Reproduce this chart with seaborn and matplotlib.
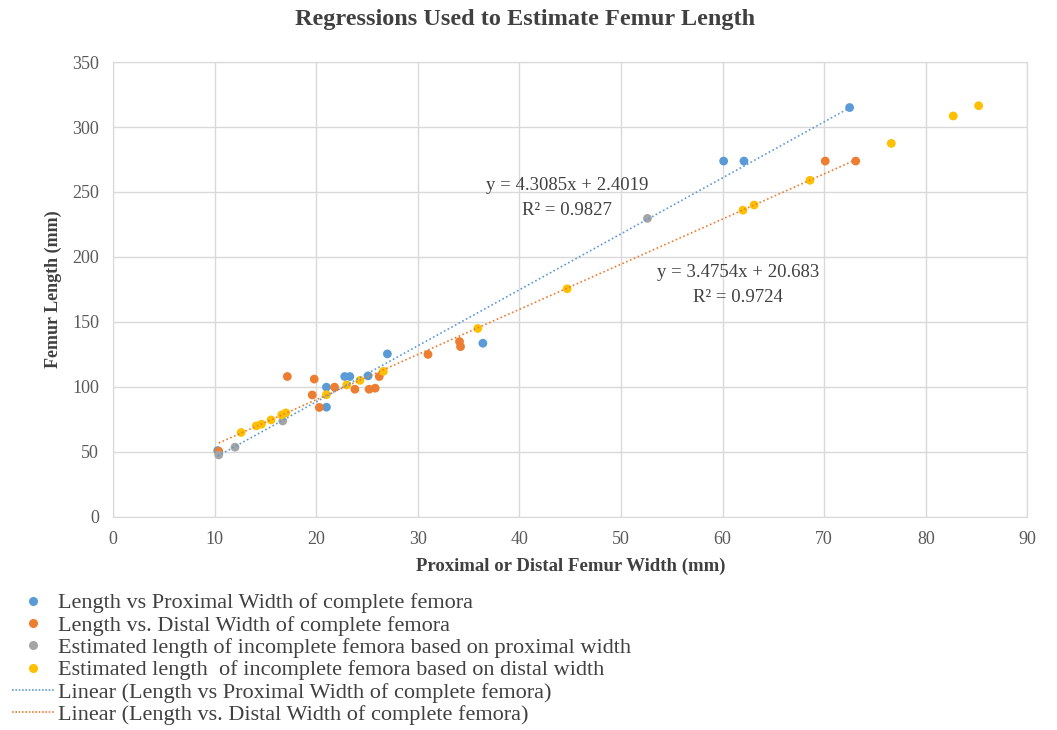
import numpy as np
import pandas as pd
import seaborn as sns
import matplotlib.pyplot as plt
from matplotlib.lines import Line2D

# --- data ---
prox_x = [10.3, 21.0, 21.0, 22.8, 23.3, 25.1, 27.0, 36.4, 60.1, 62.1, 72.5]
prox_y = [51.0, 99.8, 84.4, 108.0, 108.0, 108.5, 125.4, 133.6, 273.8, 273.8, 315.0]

dist_x = [10.4, 17.15, 19.8, 19.6, 20.3, 21.8, 23.8, 25.2, 25.8, 26.2, 31.0, 34.1, 34.2, 70.1, 73.1]
dist_y = [50.5, 108.0, 106.0, 93.8, 84.2, 99.8, 98.2, 98.2, 99.0, 108.0, 125.0, 134.9, 131.0, 273.8, 273.8]

est_prox_x = [10.4, 12.0, 16.7, 52.6]
est_prox_y = [47.7, 53.6, 73.8, 229.7]

est_dist_x = [12.6, 14.1, 14.6, 15.55, 16.6, 17.0, 21.0, 23.0, 24.3, 26.6, 35.9, 44.7,
              62.0, 63.1, 68.6, 76.6, 82.7, 85.2]
est_dist_y = [64.9, 70.0, 71.3, 74.6, 78.5, 80.0, 94.0, 101.5, 105.0, 112.0, 145.0, 175.5,
              236.0, 240.0, 259.0, 287.4, 308.5, 316.4]

series_names = ["Length vs Proximal Width of complete femora",
                "Length vs. Distal Width of complete femora",
                "Estimated length of incomplete femora based on proximal width",
                "Estimated length  of incomplete femora based on distal width"]
colors = ["#5B9BD5", "#ED7D31", "#A5A5A5", "#FFC000"]

# trendline coefficients (from the chart labels)
prox_slope, prox_int, prox_r2 = 4.3085, 2.4019, 0.9827
dist_slope, dist_int, dist_r2 = 3.4754, 20.683, 0.9724

frames = []
for name, xs, ys in zip(series_names,
                        [prox_x, dist_x, est_prox_x, est_dist_x],
                        [prox_y, dist_y, est_prox_y, est_dist_y]):
    frames.append(pd.DataFrame({"x": xs, "y": ys, "series": name}))
df = pd.concat(frames, ignore_index=True)

sns.set_style("white")
plt.rcParams['font.family'] = ['Liberation Serif', 'DejaVu Serif']

fig = plt.figure(figsize=(10.57, 7.3), dpi=100)
ax = fig.add_axes([0.107, 0.292, 0.865, 0.623])

sns.scatterplot(data=df, x="x", y="y", hue="series", hue_order=series_names,
                palette=colors, s=40, edgecolor="none", legend=False, ax=ax, zorder=3)

# linear trendlines over the range of the complete-femora data
def trend(xs, slope, intercept):
    xr = np.array([min(xs), max(xs)])
    return pd.DataFrame({"x": xr, "y": slope * xr + intercept})

sns.lineplot(data=trend(prox_x, prox_slope, prox_int), x="x", y="y", color=colors[0],
             linestyle=(0, (1, 1.5)), linewidth=1.2, ax=ax, zorder=4)
sns.lineplot(data=trend(dist_x, dist_slope, dist_int), x="x", y="y", color=colors[1],
             linestyle=(0, (1, 1.5)), linewidth=1.2, ax=ax, zorder=4)

ax.text(44.7, 255, f"y = {prox_slope}x + {prox_int}", ha="center", va="center",
        fontsize=13.5, color="#404040")
ax.text(44.7, 236, f"R² = {prox_r2}", ha="center", va="center", fontsize=13.5, color="#404040")
ax.text(61.5, 188, f"y = {dist_slope}x + {dist_int}", ha="center", va="center",
        fontsize=13.5, color="#404040")
ax.text(61.5, 169, f"R² = {dist_r2}", ha="center", va="center", fontsize=13.5, color="#404040")

ax.set_xlim(0, 90)
ax.set_ylim(0, 350)
ax.set_xticks(range(0, 91, 10))
ax.set_yticks(range(0, 351, 50))
ax.grid(True, color="#D9D9D9", linewidth=1.0)
ax.set_axisbelow(True)
for sp in ax.spines.values():
    sp.set_color("#D9D9D9")
ax.tick_params(length=0, labelsize=13, colors="#595959", pad=10)

ax.set_xlabel("Proximal or Distal Femur Width (mm)", fontsize=13.5, fontweight="bold",
              color="#404040", labelpad=7)
ax.set_ylabel("Femur Length (mm)", fontsize=13, fontweight="bold", color="#404040", labelpad=7)
fig.text(0.497, 0.973, "Regressions Used to Estimate Femur Length", ha="center", va="center",
         fontsize=17.5, fontweight="bold", color="#404040")

handles = [Line2D([], [], marker="o", linestyle="none", color=c, markersize=5.5) for c in colors]
handles += [Line2D([], [], color=colors[0], linestyle=(0, (1, 1)), linewidth=1.2),
            Line2D([], [], color=colors[1], linestyle=(0, (1, 1)), linewidth=1.2)]
labels = series_names + ["Linear (Length vs Proximal Width of complete femora)",
                         "Linear (Length vs. Distal Width of complete femora)"]
fig.legend(handles, labels, loc="upper left", bbox_to_anchor=(0.011, 0.188), frameon=False,
           fontsize=16, handlelength=1.95, handletextpad=0.15, labelspacing=0.08,
           borderaxespad=0, borderpad=0, labelcolor="#404040")

fig.savefig("out.png", dpi=100, facecolor="white")
